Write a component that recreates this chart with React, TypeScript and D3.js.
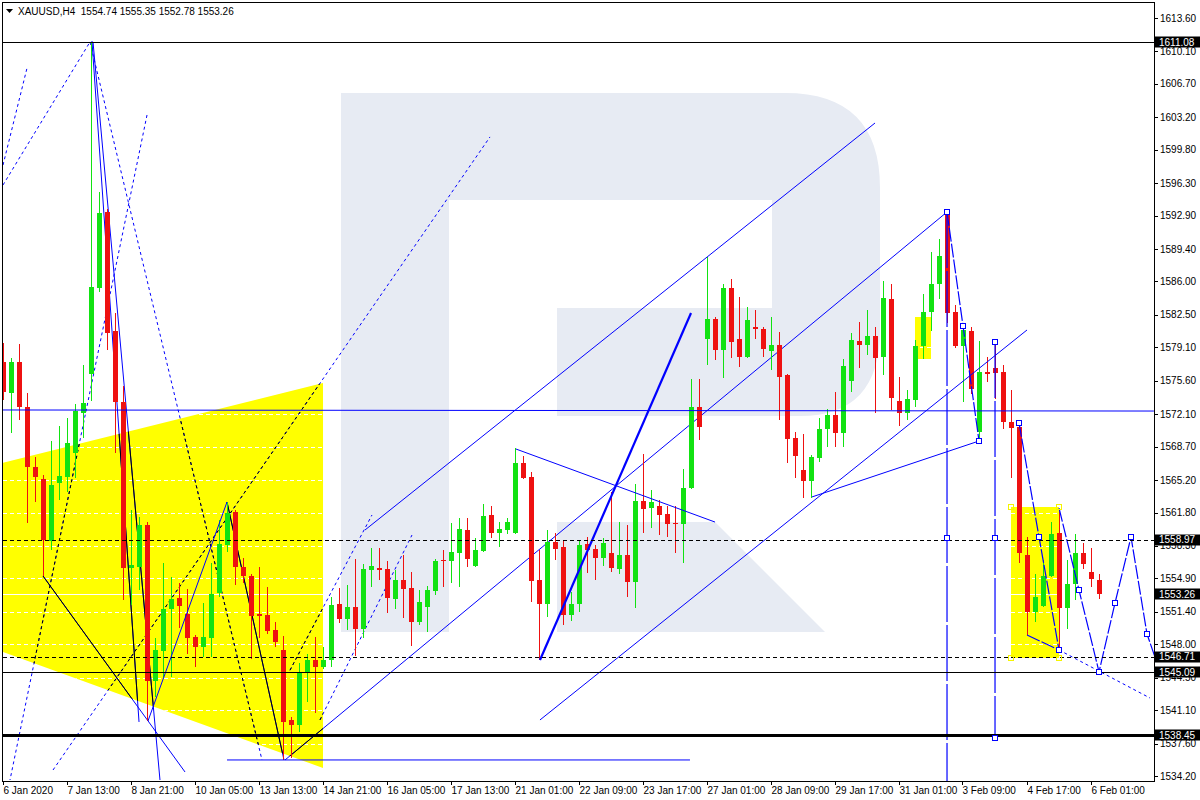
import React from "react";
import * as d3 from "d3";

// ---------- candle data (H4 XAUUSD, bar index 0..137) ----------
const opens = [1577.6,1574.3,1577.6,1572.9,1566.6,1565.3,1558.8,1564.9,1565.5,1568.0,1572.2,1576.3,1585.3,1593.3,1580.8,1573.4,1556.0,1556.1,1560.5,1544.1,1547.3,1551.7,1552.8,1551.2,1548.8,1547.7,1548.7,1553.4,1558.4,1561.9,1556.1,1555.2,1551.2,1551.1,1549.5,1547.4,1540.1,1539.5,1545.0,1546.4,1545.6,1546.4,1552.2,1550.6,1551.9,1549.6,1555.8,1556.0,1555.9,1552.7,1554.7,1553.9,1550.3,1551.9,1553.6,1556.8,1556.7,1557.6,1560.0,1556.2,1557.8,1561.5,1559.7,1560.0,1559.7,1567.0,1565.5,1554.7,1552.2,1558.7,1558.2,1551.1,1552.2,1558.5,1558.0,1557.0,1557.6,1555.9,1557.4,1554.5,1563.0,1562.3,1562.5,1561.6,1560.7,1560.6,1564.4,1572.9,1580.0,1582.1,1578.8,1585.3,1580.0,1578.1,1581.2,1581.0,1578.7,1579.3,1576.2,1569.6,1566.3,1565.1,1567.5,1570.6,1572.0,1570.1,1575.6,1579.8,1579.3,1580.3,1578.1,1584.2,1573.5,1572.2,1573.6,1579.2,1582.8,1585.7,1593.1,1582.8,1579.2,1580.8,1570.2,1576.5,1576.9,1576.5,1571.3,1570.8,1557.4,1551.4,1552.0,1555.1,1559.7,1551.8,1554.3,1557.6,1555.6,1554.74];
const highs = [1579.6,1578.0,1579.4,1574.3,1567.6,1565.7,1569.3,1570.9,1571.7,1573.2,1577.3,1611.1,1595.4,1593.6,1582.7,1575.1,1562.1,1561.3,1560.8,1548.7,1556.5,1555.0,1554.4,1553.8,1549.0,1552.3,1556.5,1561.0,1562.9,1562.1,1557.0,1555.4,1556.1,1554.0,1550.3,1548.9,1540.4,1546.0,1547.0,1548.8,1547.7,1552.9,1553.9,1554.2,1556.9,1556.4,1558.1,1558.1,1556.7,1555.8,1557.3,1555.6,1553.7,1554.1,1556.9,1557.9,1560.7,1561.2,1561.2,1559.1,1562.7,1562.5,1560.8,1561.2,1568.6,1567.7,1566.0,1557.9,1560.0,1559.7,1558.9,1553.5,1558.9,1559.2,1558.4,1559.1,1563.9,1560.8,1560.5,1564.8,1567.9,1564.2,1563.1,1562.5,1562.5,1566.4,1575.8,1575.8,1588.6,1582.3,1585.7,1586.3,1584.4,1583.3,1583.0,1581.2,1582.3,1580.7,1576.3,1570.2,1570.0,1567.8,1571.7,1572.6,1574.4,1577.9,1580.6,1581.8,1583.0,1581.2,1586.0,1585.7,1576.0,1574.6,1579.9,1584.7,1589.1,1590.5,1593.3,1583.5,1581.3,1581.2,1579.8,1578.1,1579.5,1577.3,1574.6,1571.5,1559.2,1555.4,1556.8,1560.8,1562.1,1556.8,1559.6,1558.6,1558.1,1555.35];
const lows = [1573.6,1570.1,1571.5,1560.7,1562.9,1555.2,1557.9,1563.1,1563.9,1565.4,1569.6,1573.5,1584.9,1578.8,1568.0,1552.6,1552.1,1553.7,1540.0,1542.5,1544.6,1544.6,1549.7,1547.0,1545.6,1546.7,1546.7,1552.9,1557.7,1554.2,1554.4,1546.5,1548.7,1549.1,1547.7,1535.9,1536.1,1538.8,1541.9,1540.8,1545.4,1545.6,1550.2,1549.5,1546.8,1548.7,1554.0,1554.7,1551.3,1551.7,1550.7,1547.8,1550.0,1549.3,1553.2,1554.0,1554.4,1554.0,1556.1,1556.1,1557.7,1559.1,1558.2,1559.5,1559.6,1565.3,1552.4,1546.4,1550.9,1556.8,1550.0,1550.4,1551.4,1555.5,1554.7,1556.2,1555.6,1555.4,1552.9,1551.8,1559.7,1560.2,1559.4,1559.2,1557.6,1556.5,1564.3,1569.4,1577.3,1577.8,1575.9,1578.0,1577.0,1578.0,1580.0,1578.1,1576.7,1571.5,1567.0,1565.4,1563.3,1563.3,1567.1,1568.7,1568.7,1568.7,1574.4,1576.9,1578.3,1572.2,1576.2,1572.5,1570.9,1571.5,1572.9,1577.9,1580.8,1584.2,1581.6,1579.0,1573.4,1574.2,1569.4,1575.5,1573.7,1570.5,1565.4,1556.5,1549.0,1550.3,1551.9,1555.0,1547.4,1549.6,1552.6,1555.9,1554.0,1552.78];
const closes = [1574.4,1577.6,1572.9,1566.6,1565.5,1558.9,1564.7,1565.6,1569.1,1572.4,1573.3,1585.4,1593.2,1580.6,1573.4,1556.0,1556.3,1560.5,1544.1,1547.4,1551.7,1552.7,1552.0,1548.7,1547.7,1548.8,1553.3,1558.5,1561.8,1556.1,1555.1,1551.0,1551.0,1549.4,1548.2,1539.9,1539.5,1545.0,1546.3,1545.6,1546.3,1552.1,1550.6,1551.9,1549.6,1555.9,1556.2,1555.8,1552.8,1554.7,1553.8,1550.3,1552.4,1553.7,1556.7,1556.7,1557.7,1560.1,1556.9,1557.9,1561.4,1559.7,1560.1,1560.8,1567.0,1565.4,1554.6,1552.2,1558.7,1558.0,1551.1,1552.2,1558.4,1557.9,1557.0,1558.6,1556.0,1557.4,1554.5,1563.0,1562.2,1562.9,1561.5,1560.6,1560.6,1564.4,1572.9,1570.8,1582.1,1578.8,1585.3,1579.7,1578.1,1582.0,1581.0,1578.9,1579.3,1576.0,1569.5,1567.7,1565.1,1567.6,1570.6,1572.0,1570.1,1577.1,1579.9,1579.3,1580.3,1578.0,1584.3,1573.8,1572.2,1573.7,1579.2,1582.8,1585.7,1588.7,1582.7,1579.2,1580.9,1574.7,1576.5,1576.3,1576.4,1571.3,1570.7,1557.6,1551.4,1552.9,1555.2,1559.6,1551.8,1554.3,1557.6,1556.4,1554.8,1553.26];

const xTickLabels = ["6 Jan 2020","7 Jan 13:00","8 Jan 21:00","10 Jan 05:00","13 Jan 13:00","14 Jan 21:00","16 Jan 05:00","17 Jan 13:00","21 Jan 01:00","22 Jan 09:00","23 Jan 17:00","27 Jan 01:00","28 Jan 09:00","29 Jan 17:00","31 Jan 01:00","3 Feb 09:00","4 Feb 17:00","6 Feb 01:00"];
const yTickValues = [1613.6,1610.1,1606.7,1603.2,1599.8,1596.3,1592.9,1589.4,1586.0,1582.5,1579.1,1575.6,1572.1,1568.7,1565.2,1561.8,1558.3,1554.9,1551.4,1548.0,1544.5,1541.1,1537.6,1534.2];

const symbolTitle = "XAUUSD,H4";
const lastQuote = [1554.74, 1555.35, 1552.78, 1553.26];
const solidLevels = [1611.08, 1545.09];
const dashedLevels = [1558.97, 1546.71];
const thickLevels = [1538.45];

// ---------- drawn objects, anchors as [bar index, price] ----------
const yellowWedge = [[-0.06,1567.0],[39.94,1575.37],[39.94,1535.04],[-0.06,1547.19]];
const yellowBoxes = [[[113.94,1582.28],[115.94,1577.88]],[[125.94,1562.38],[131.94,1546.56]]];

const bgSolidLines = [
  [[11.19,1611.09],[19.56,1533.78]],
  [[11.06,1611.19],[16.94,1539.86]],
  [[4.94,1555.15],[22.69,1534.62]],
  [[27.94,1562.9],[35.06,1535.88]],
  [[35.19,1535.88],[117.94,1593.28]],
];
const bgDottedLines = [
  [[10.81,1611.09],[32.31,1535.88]],
  [[17.94,1603.44],[0.81,1533.78]],
  [[-0.06,1596.11],[10.81,1611.09]],
  [[-0.06,1598.2],[2.94,1608.36]],
  [[6.19,1534.83],[60.81,1601.14]],
  [[35.81,1545.28],[46.06,1561.54]],
  [[39.56,1540.07],[51.06,1559.44]],
];
const fgSolidLines = [
  [[18.06,1539.96],[27.94,1562.9]],
  [[45.19,1559.97],[108.94,1602.6]],
  [[67.06,1540.07],[127.94,1580.92]],
  [[64.06,1568.45],[88.94,1560.8]],
  [[101.06,1563.43],[121.94,1569.29]],
  [[-0.06,1572.54],[143.8,1572.43]],
  [[27.94,1535.88],[85.81,1535.88]],
];
const thickLines = [[[67.06,1546.35],[85.94,1582.7]]];
const zigzagLines = [
  [[117.94,1593.28],[119.94,1581.34],[121.94,1569.29]],
  [[126.94,1571.18],[129.44,1559.24],[131.94,1547.4]],
  [[131.94,1562.27],[134.44,1553.68],[136.94,1545.1],[138.94,1552.32],[140.94,1559.24],[142.94,1549.07],[144.06,1546.35]],
  [[127.94,1548.97],[131.94,1547.4]],
];
const zigzagDotted = [[[131.94,1547.4],[143.31,1542.37]]];
const verticalLines = [[[117.94,1593.28],[117.94,1533.5]],[[123.94,1579.66],[123.94,1538.18]]];
const squareMarkers = [[117.94,1593.28],[119.94,1581.34],[121.94,1569.29],[123.94,1579.66],[123.94,1538.18],[117.94,1559.13],[123.94,1559.13],[126.94,1571.18],[129.44,1559.24],[131.94,1547.4],[134.44,1553.68],[136.94,1545.1],[138.94,1552.32],[140.94,1559.24],[142.94,1549.07]];

const W = 1200, H = 800;
const PL = 3, PR = 1154, PT = 3, PB = 781;
const UP = "#12e212", DOWN = "#ee1111", BLUE = "#0000ff", YEL = "#ffff00";
const FONT = "'Liberation Sans', Arial, sans-serif";

export default function App() {
  const x = d3.scaleLinear().domain([0, 100]).range([3.5, 803.5]);
  const y = d3.scaleLinear().domain([1534.2, 1613.6]).range([776, 18]);
  const line = d3.line<number[]>().x((d) => x(d[0])).y((d) => y(d[1]));
  const ry = (v: number) => Math.round(y(v)) + 0.5;

  const wedgePath = line(yellowWedge as any) + "Z";
  const boxPaths = yellowBoxes.map(([a, b]) => {
    const x0 = Math.round(x(a[0])), x1 = Math.round(x(b[0]));
    const y0 = Math.round(y(a[1])), y1 = Math.round(y(b[1]));
    return `M${x0},${y0}H${x1}V${y1}H${x0}Z`;
  });

  const bars = opens.map((o, i) => ({ i, o, h: highs[i], l: lows[i], c: closes[i] }));

  const renderLines = (arr: number[][][], stroke: string, dash?: string, width = 1, key = "") =>
    arr.map((pts, k) => (
      <path key={key + k} d={line(pts as any) || ""} fill="none" stroke={stroke} strokeWidth={width} strokeDasharray={dash} />
    ));

  const last = lastQuote[3];
  const labelBoxes = [...solidLevels, ...dashedLevels, ...thickLevels, last];

  return (
    <svg width={W} height={H} style={{ position: "fixed", left: 0, top: 0, background: "#fff" }} fontFamily={FONT}>
      <defs>
        <clipPath id="plotClip"><rect x={PL} y={PT} width={PR - PL} height={PB - PT} /></clipPath>
        <clipPath id="yelClip">
          <path d={wedgePath} />
          {boxPaths.map((d, k) => <path key={k} d={d} />)}
        </clipPath>
      </defs>
      <rect x={0} y={0} width={W} height={H} fill="#fff" />
      <g clipPath="url(#plotClip)">
        {/* watermark logo */}
        <g fill="#e7ebf3">
          <rect x={341} y={93} width={108} height={539} />
          <path d="M449,93H785Q880,93 880,188V330Q880,416 800,416H557V308H772V200H449Z" />
          <path d="M557,522H715L825,632H557Z" />
        </g>
        {/* yellow objects */}
        <path d={wedgePath} fill={YEL} />
        {boxPaths.map((d, k) => <path key={k} d={d} fill={YEL} />)}
        {/* grid & bid line, visible over yellow only */}
        <g clipPath="url(#yelClip)">
          {yTickValues.map((v, k) => (
            <line key={k} x1={PL} x2={PR} y1={ry(v)} y2={ry(v)} stroke="#fff" strokeDasharray="4 3" />
          ))}
          <line x1={PL} x2={PR} y1={ry(last)} y2={ry(last)} stroke="#fff" />
        </g>
        {/* background-mode objects */}
        {renderLines(bgSolidLines, BLUE, undefined, 1, "bs")}
        {renderLines(bgDottedLines, BLUE, "3 3", 1, "bd")}
        <g clipPath="url(#yelClip)">
          {renderLines(bgSolidLines, "#000", undefined, 1, "ks")}
          {renderLines(bgDottedLines, "#000", "3 3", 1, "kd")}
        </g>
        {/* candles */}
        <g shapeRendering="crispEdges">
          {bars.map((b) => {
            const col = b.c >= b.o ? UP : DOWN;
            const cx = x(b.i);
            const top = Math.round(y(Math.max(b.o, b.c)));
            const bot = Math.round(y(Math.min(b.o, b.c)));
            return (
              <g key={b.i}>
                <line x1={cx} x2={cx} y1={Math.round(y(b.h))} y2={Math.round(y(b.l))} stroke={col} />
                <rect x={cx - 2.5} y={top} width={5} height={Math.max(1, bot - top)} fill={col} />
              </g>
            );
          })}
        </g>
        {/* foreground objects */}
        {renderLines(fgSolidLines, BLUE, undefined, 1, "fs")}
        {renderLines(thickLines, BLUE, undefined, 2.2, "th")}
        {renderLines(zigzagLines, BLUE, "14 2", 1.2, "zz")}
        {renderLines(zigzagDotted, BLUE, "3 3", 1, "zd")}
        {renderLines(verticalLines, BLUE, "56 3", 1.2, "vl")}
        {/* levels */}
        <g shapeRendering="crispEdges">
          {solidLevels.map((v, k) => <line key={"s" + k} x1={PL} x2={PR} y1={ry(v)} y2={ry(v)} stroke="#000" />)}
          {dashedLevels.map((v, k) => <line key={"d" + k} x1={PL} x2={PR} y1={ry(v)} y2={ry(v)} stroke="#000" strokeDasharray="4 3" />)}
          {thickLevels.map((v, k) => <line key={"t" + k} x1={PL} x2={PR} y1={ry(v)} y2={ry(v)} stroke="#000" strokeWidth={3} />)}
        </g>
        {squareMarkers.map((m, k) => (
          <rect key={"m" + k} x={Math.round(x(m[0])) - 2.5} y={Math.round(y(m[1])) - 2.5} width={5} height={5} fill="#fff" stroke={BLUE} />
        ))}
        {yellowBoxes[1].flatMap((a) => yellowBoxes[1].map((b) => [a[0], b[1]])).map((m, k) => (
          <rect key={"ym" + k} x={Math.round(x(m[0])) - 2.5} y={Math.round(y(m[1])) - 2.5} width={5} height={5} fill="none" stroke="#f5f500" />
        ))}
      </g>
      {/* frame */}
      <rect x={PL - 0.5} y={PT - 0.5} width={PR - PL + 1} height={PB - PT + 1} fill="none" stroke="#000" shapeRendering="crispEdges" />
      {/* header */}
      <path d="M6,9H13L9.5,13Z" fill="#000" />
      <text x={18} y={15} fontSize={10} fill="#000" style={{ whiteSpace: "pre" }}>{`${symbolTitle}  ${lastQuote.map((v) => v.toFixed(2)).join(" ")}`}</text>
      {/* y axis */}
      <g fontSize={10} fill="#000">
        {yTickValues.map((v, k) => (
          <g key={k}>
            <line x1={PR} x2={PR + 4} y1={ry(v)} y2={ry(v)} stroke="#000" shapeRendering="crispEdges" />
            <text x={PR + 6} y={y(v) + 3.5}>{v.toFixed(2)}</text>
          </g>
        ))}
        {labelBoxes.map((v, k) => (
          <g key={"lb" + k}>
            <rect x={PR + 1} y={Math.round(y(v)) - 5.5} width={45} height={11} fill="#000" />
            <text x={PR + 5} y={y(v) + 3.5} fill="#fff">{v.toFixed(2)}</text>
          </g>
        ))}
      </g>
      {/* x axis */}
      <g fontSize={10} fill="#000">
        {xTickLabels.map((t, k) => {
          const tx = Math.round(x(k * 8)) - 0.5;
          return (
            <g key={k}>
              <line x1={tx} x2={tx} y1={PB} y2={PB + 4} stroke="#000" shapeRendering="crispEdges" />
              <text x={tx} y={794}>{t}</text>
            </g>
          );
        })}
      </g>
    </svg>
  );
}
